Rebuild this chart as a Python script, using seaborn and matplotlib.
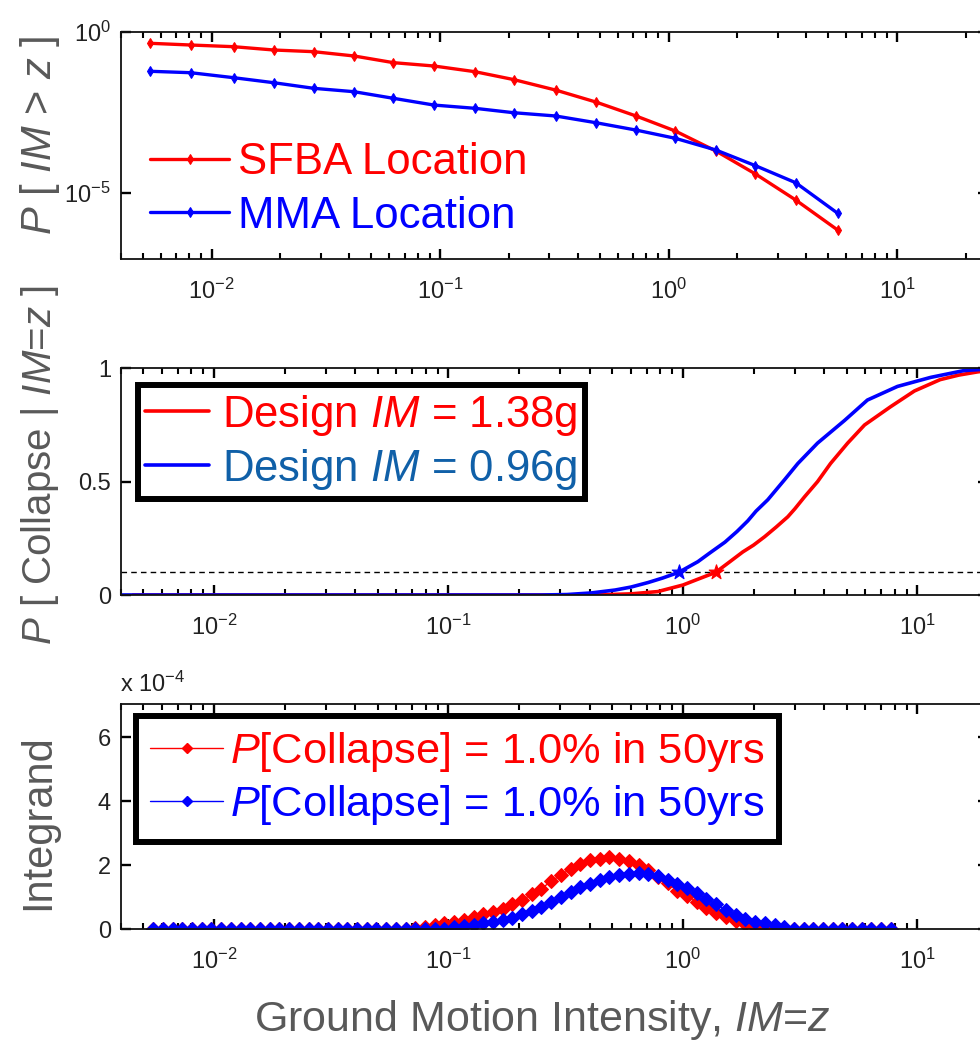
import matplotlib
matplotlib.use("Agg")
import matplotlib.pyplot as plt
import matplotlib.ticker as mticker
from matplotlib.lines import Line2D
import seaborn as sns

# ---- data ----
# top panel: hazard curves P[IM > z]
hazard_im = [0.0054, 0.0081, 0.0125, 0.0187, 0.028, 0.042, 0.0625, 0.094, 0.142,
             0.21, 0.32, 0.48, 0.72, 1.07, 1.61, 2.4, 3.6, 5.5]
hazard_sfba = [0.455, 0.403, 0.357, 0.282, 0.25, 0.184, 0.114, 0.0898, 0.0598,
               0.034, 0.0161, 0.00685, 0.00252, 8.6e-4, 2.06e-4, 3.98e-5, 6.2e-6, 7.2e-7]
hazard_mma = [0.0615, 0.0556, 0.0389, 0.0272, 0.0182, 0.0143, 0.0089, 0.0055, 0.00436,
              0.00318, 0.00252, 0.00156, 9.2e-4, 5.1e-4, 2.21e-4, 7.2e-5, 2.13e-5, 2.39e-6]

# middle panel: fragility curves P[Collapse | IM=z]
frag_red_im = [0.0045, 0.3, 0.45, 0.60, 0.78, 1.0, 1.16, 1.38, 1.60, 1.80, 2.0, 2.23,
               2.50, 2.80, 3.0, 3.30, 3.75, 4.26, 5.04, 5.95, 7.67, 9.71, 12.5, 15.0,
               18.0, 20.0]
frag_red_p = [0, 0, 0.001, 0.005, 0.015, 0.044, 0.07, 0.10, 0.15, 0.19, 0.22, 0.257,
              0.30, 0.345, 0.38, 0.433, 0.50, 0.58, 0.67, 0.75, 0.83, 0.90, 0.95, 0.97,
              0.984, 0.99]
frag_blue_im = [0.004, 0.25, 0.32, 0.406, 0.514, 0.60, 0.71, 0.82, 0.96, 1.158, 1.30,
                1.51, 1.70, 1.89, 2.05, 2.30, 2.72, 3.09, 3.75, 4.89, 6.12, 8.22, 11.4,
                15.8, 20.0]
frag_blue_p = [0, 0, 0.002, 0.009, 0.022, 0.035, 0.055, 0.075, 0.10, 0.147, 0.185,
               0.233, 0.28, 0.327, 0.37, 0.42, 0.51, 0.58, 0.67, 0.77, 0.86, 0.92, 0.96,
               0.99, 0.997]
design_im = [1.38, 0.96]
collapse_level = 0.1

# bottom panel: integrand (units of 1e-4)
integ_im = [0.0055, 0.00605, 0.00666, 0.00732, 0.00805, 0.00886, 0.00974, 0.0107,
            0.0118, 0.0130, 0.0143, 0.0157, 0.0173, 0.0190, 0.0209, 0.0230, 0.0253,
            0.0278, 0.0306, 0.0337, 0.0370, 0.0407, 0.0448, 0.0493, 0.0542, 0.0596,
            0.0656, 0.0722, 0.0794, 0.0873, 0.0960, 0.106, 0.116, 0.128, 0.141, 0.155,
            0.170, 0.187, 0.206, 0.227, 0.249, 0.274, 0.302, 0.332, 0.365, 0.402, 0.442,
            0.486, 0.535, 0.588, 0.647, 0.712, 0.783, 0.861, 0.947, 1.04, 1.15, 1.26,
            1.39, 1.52, 1.68, 1.84, 2.03, 2.23, 2.46, 2.70, 2.97, 3.27, 3.60, 3.96,
            4.35, 4.79, 5.27, 5.79, 6.37, 7.01, 7.71]
integ_red = [0, 0, 0, 0, 0, 0, 0, 0, 0, 0, 0, 0, 0, 0, 0, 0, 0, 0, 0, 0, 0, 0, 0, 0, 0, 0, 0,
             0.03, 0.08, 0.13, 0.19, 0.23, 0.30, 0.38, 0.47, 0.55, 0.64, 0.78, 0.91, 1.10,
             1.27, 1.50, 1.70, 1.89, 2.05, 2.15, 2.20, 2.27, 2.20, 2.12, 2.00, 1.84, 1.63,
             1.44, 1.20, 1.04, 0.86, 0.67, 0.52, 0.37, 0.26, 0.16, 0.08, 0.04, 0.02,
             0, 0, 0, 0, 0, 0, 0, 0, 0, 0, 0, 0]
integ_blue = [0, 0, 0, 0, 0, 0, 0, 0, 0, 0, 0, 0, 0, 0, 0, 0, 0, 0, 0, 0, 0, 0, 0, 0, 0, 0,
              0, 0, 0, 0,
              0.02, 0.06, 0.10, 0.13, 0.19, 0.24, 0.29, 0.36, 0.48, 0.58, 0.70, 0.85, 1.00,
              1.16, 1.32, 1.43, 1.53, 1.63, 1.71, 1.74, 1.77, 1.74, 1.66, 1.55, 1.42, 1.28,
              1.13, 0.94, 0.78, 0.60, 0.45, 0.32, 0.24, 0.19, 0.13, 0.06, 0.01,
              0, 0, 0, 0, 0, 0, 0, 0, 0, 0]

RED = "#ff0000"
BLUE = "#0000ff"
STEEL = "#1060a8"
GRAY = "#595959"
TICK = "#222222"
LEG_FS = 31.5

sns.set_style("ticks")
plt.rcParams["font.family"] = ["Liberation Sans", "DejaVu Sans"]
plt.rcParams["mathtext.fontset"] = "custom"
plt.rcParams["mathtext.rm"] = "Liberation Sans"
plt.rcParams["mathtext.it"] = "Liberation Sans:italic"
plt.rcParams["axes.linewidth"] = 1.3
plt.rcParams["axes.edgecolor"] = "#111111"

fig = plt.figure(figsize=(9.8, 10.42), dpi=100)
W, H = 980.0, 1042.0


def make_axes(left, top, right, bottom):
    return fig.add_axes([left / W, 1 - bottom / H, (right - left) / W, (bottom - top) / H])


def style_axis(ax):
    ax.xaxis.set_major_locator(mticker.LogLocator(base=10, numticks=20))
    ax.xaxis.set_minor_locator(mticker.LogLocator(base=10, subs=[2, 3, 4, 5, 6, 7, 8, 9],
                                                  numticks=100))
    ax.xaxis.set_minor_formatter(mticker.NullFormatter())
    ax.tick_params(which="both", direction="in", top=True, right=True,
                   labelsize=17, labelcolor=TICK, color="black")
    ax.tick_params(which="major", length=7.5, width=1.7)
    ax.tick_params(which="minor", length=4.5, width=1.5)
    ax.tick_params(axis="x", which="major", pad=14)
    ax.tick_params(axis="y", which="major", pad=7)
    ax.set_xlabel("")
    ax.set_ylabel("")


# ---- top panel ----
ax1 = make_axes(120.7, 32.3, 988, 259.3)
sns.lineplot(x=hazard_im, y=hazard_sfba, ax=ax1, color=RED, lw=2.4, marker="d",
             ms=5.5, mec=RED, mfc=RED, label="SFBA Location")
sns.lineplot(x=hazard_im, y=hazard_mma, ax=ax1, color=BLUE, lw=2.4, marker="d",
             ms=5.5, mec=BLUE, mfc=BLUE, label="MMA Location")
ax1.set_xscale("log")
ax1.set_yscale("log")
ax1.set_xlim(0.004, 25)
ax1.set_ylim(10 ** -7.05, 1)
ax1.yaxis.set_major_locator(mticker.FixedLocator([1e-5, 1]))
ax1.yaxis.set_minor_locator(mticker.NullLocator())
style_axis(ax1)
leg1 = ax1.legend(loc="center left", bbox_to_anchor=(0.034, 0.308), frameon=False,
                  fontsize=LEG_FS, handlelength=1.8, handletextpad=0.2, borderpad=0,
                  borderaxespad=0, labelspacing=0.28, labelcolor="linecolor")

# ---- middle panel ----
ax2 = make_axes(120.7, 368.3, 988, 595)
ax2.axhline(collapse_level, color="black", lw=1.0, ls=(0, (4, 3)))
sns.lineplot(x=frag_red_im, y=frag_red_p, ax=ax2, color=RED, lw=2.6)
sns.lineplot(x=frag_blue_im, y=frag_blue_p, ax=ax2, color=BLUE, lw=2.6)
sns.scatterplot(x=[design_im[0]], y=[collapse_level], ax=ax2, color=RED, marker="*",
                s=120, edgecolor=RED, zorder=5)
sns.scatterplot(x=[design_im[1]], y=[collapse_level], ax=ax2, color=BLUE, marker="*",
                s=120, edgecolor=BLUE, zorder=5)
ax2.set_xscale("log")
ax2.set_xlim(0.004, 20)
ax2.set_ylim(0, 1)
ax2.set_yticks([0, 0.5, 1])
ax2.yaxis.set_minor_locator(mticker.NullLocator())
ax2.yaxis.set_major_formatter(mticker.FuncFormatter(lambda v, p: f"{v:g}"))
style_axis(ax2)
h2 = [Line2D([], [], color=RED, lw=2.6), Line2D([], [], color=BLUE, lw=2.6)]
leg2 = ax2.legend(h2, [r"Design $\mathit{IM}$ = 1.38g", r"Design $\mathit{IM}$ = 0.96g"],
                  loc="upper left", bbox_to_anchor=(0.02, 0.926), fontsize=LEG_FS,
                  handlelength=1.46, handletextpad=0.3, borderpad=0.17,
                  borderaxespad=0, labelspacing=0.21, fancybox=False,
                  edgecolor="black", framealpha=1)
leg2.get_frame().set_linewidth(4.3)
leg2.get_texts()[0].set_color(RED)
leg2.get_texts()[1].set_color(STEEL)

# ---- bottom panel ----
ax3 = make_axes(120.7, 704, 988, 929.3)
sns.lineplot(x=integ_im, y=integ_red, ax=ax3, color=RED, lw=1.0, marker="D", ms=6.8,
             mec=RED, mfc=RED)
sns.lineplot(x=integ_im, y=integ_blue, ax=ax3, color=BLUE, lw=1.0, marker="D", ms=6.8,
             mec=BLUE, mfc=BLUE)
ax3.set_xscale("log")
ax3.set_xlim(0.004, 20)
ax3.set_ylim(0, 7.04)
ax3.set_yticks([0, 2, 4, 6])
ax3.yaxis.set_minor_locator(mticker.NullLocator())
ax3.yaxis.set_major_formatter(mticker.FuncFormatter(lambda v, p: f"{v:g}"))
style_axis(ax3)
h3 = [Line2D([], [], color=RED, lw=1.0, marker="D", ms=5.5, mec=RED, mfc=RED),
      Line2D([], [], color=BLUE, lw=1.0, marker="D", ms=5.5, mec=BLUE, mfc=BLUE)]
leg3 = ax3.legend(h3, [r"$\mathit{P}$[Collapse] = 1.0% in 50yrs",
                       r"$\mathit{P}$[Collapse] = 1.0% in 50yrs"],
                  loc="upper left", bbox_to_anchor=(0.0176, 0.947), fontsize=31.2,
                  handlelength=1.68, handletextpad=0.16, borderpad=0.33,
                  borderaxespad=0, labelspacing=0.21, fancybox=False,
                  edgecolor="black", framealpha=1, numpoints=1)
leg3.get_frame().set_linewidth(4.3)
leg3.get_texts()[0].set_color(RED)
leg3.get_texts()[1].set_color(BLUE)
fig.text(120 / W, 1 - 692 / H, r"x 10$^{-4}$", fontsize=17, color=TICK, va="baseline")

# ---- axis titles ----
fig.text(40 / W, 1 - 135 / H, r"$\mathit{P}$ [ $\mathit{IM}$ > $\mathit{z}$ ]",
         rotation=90, ha="center", va="center", fontsize=30, color=GRAY)
fig.text(40 / W, 1 - 465 / H, r"$\mathit{P}$ [ Collapse | $\mathit{IM}$=$\mathit{z}$ ]",
         rotation=90, ha="center", va="center", fontsize=29, color=GRAY)
fig.text(38 / W, 1 - 822 / H, "Integrand", rotation=90, ha="center", va="center",
         fontsize=30, color=GRAY)
fig.text(542 / W, 1 - 1020 / H, r"Ground Motion Intensity, $\mathit{IM}$=$\mathit{z}$",
         ha="center", va="center", fontsize=31, color=GRAY)

fig.savefig("out.png", dpi=100)
